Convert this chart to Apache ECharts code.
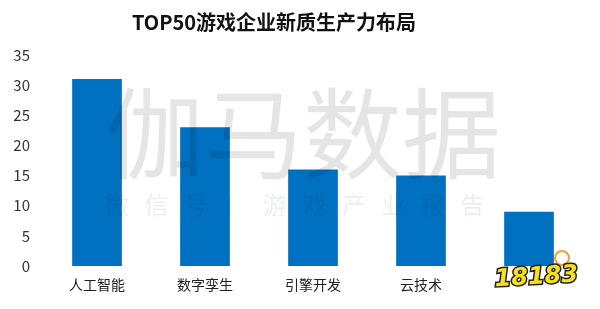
<!DOCTYPE html>
<html>
<head>
<meta charset="utf-8">
<script src="https://cdn.jsdelivr.net/npm/echarts@6/dist/echarts.min.js"></script>
<style>
html,body{margin:0;padding:0;background:#fff;}
#chart{width:600px;height:309px;}
</style>
</head>
<body>
<div id="chart"></div>
<script>
var titleText = 'TOP50游戏企业新质生产力布局';
var categories = ['人工智能', '数字孪生', '引擎开发', '云技术', ''];
var values = [31, 23, 16, 15, 9];
var yTicks = [0, 5, 10, 15, 20, 25, 30, 35];
var watermarkMain = '伽马数据';
var watermarkSub = ['微', '信', '号', '：', '游', '戏', '产', '业', '报', '告'];

var font = '"Noto Sans CJK SC", "Noto Sans", sans-serif';
var chart = echarts.init(document.getElementById('chart'));

var graphics = [];
graphics.push({
  type: 'text', x: 303, y: 84, z: 100,
  style: { text: watermarkMain, font: '400 99px ' + font, fill: 'rgba(0,0,0,0.1)', textAlign: 'center' }
});
watermarkSub.forEach(function (ch, i) {
  graphics.push({
    type: 'text', x: 105 + i * 39.5, y: 193, z: 100,
    style: { text: ch, font: '400 24px ' + font, fill: 'rgba(0,0,0,0.07)' }
  });
});
// logo
graphics.push({
  type: 'text', x: 494, y: 268, z: 110, rotation: 0.06,
  style: { text: '18183', font: 'italic 900 24px "DejaVu Sans", sans-serif',
    fill: '#f7e11a', stroke: '#222', lineWidth: 3 }
});
graphics.push({
  type: 'circle', z: 105, shape: { cx: 562, cy: 258, r: 7 },
  style: { fill: 'none', stroke: '#f0a040', lineWidth: 2 }
});

chart.setOption({
  animation: false,
  backgroundColor: '#fff',
  title: {
    text: titleText, left: 269, top: 7, textAlign: 'center',
    textStyle: { fontFamily: font, fontWeight: 'bold', fontSize: 20, color: '#111' }
  },
  grid: { left: 43, right: 17, top: 55, bottom: 43 },
  xAxis: {
    type: 'category', data: categories,
    axisLine: { show: false }, axisTick: { show: false },
    axisLabel: { fontFamily: font, fontSize: 14, color: '#222', margin: 12 }
  },
  yAxis: {
    type: 'value', min: 0, max: 35, interval: 5,
    axisLine: { show: false }, axisTick: { show: false }, splitLine: { show: false },
    axisLabel: {
      fontFamily: font, fontSize: 15, color: '#333', margin: 13,
      formatter: function (v) { return yTicks.indexOf(v) >= 0 ? String(v) : ''; }
    }
  },
  series: [{
    type: 'bar', data: values, barWidth: '46%',
    itemStyle: { color: '#0070C0' }
  }],
  graphic: graphics
});
</script>
</body>
</html>
